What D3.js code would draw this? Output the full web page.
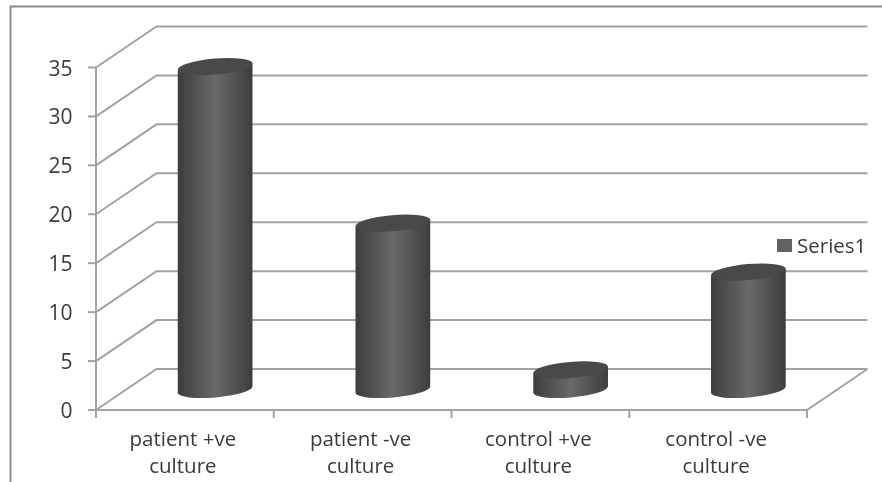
<!DOCTYPE html>
<html><head><meta charset="utf-8">
<script src="https://cdn.jsdelivr.net/npm/d3@7"></script>
<style>html,body{margin:0;background:#fff}svg{display:block}text{font-family:"Open Sans",sans-serif;fill:#3a3a3a}</style>
</head><body><svg id="c" width="882" height="482"></svg>
<script>
const categories=[["patient +ve","culture"],["patient -ve","culture"],["control +ve","culture"],["control -ve","culture"]];
const values=[33,17,2,12];
const yTicks=[0,5,10,15,20,25,30,35];
const seriesName="Series1";

const svg=d3.select("#c");
const depth={x:60.5,y:-41};
const y=d3.scaleLinear().domain([0,35]).range([410,67.5]);
const x=d3.scaleBand().domain(d3.range(4)).range([96,807]);
const grid="#a3a3a3";
const defs=svg.append("defs");
const g=defs.append("linearGradient").attr("id","cyl");
[[0,"#3d3d3d"],[.5,"#696969"],[1,"#3d3d3d"]].forEach(s=>g.append("stop").attr("offset",s[0]).attr("stop-color",s[1]));
defs.append("filter").attr("id","soft").append("feGaussianBlur").attr("stdDeviation",.35);
const root=svg.append("g").attr("filter","url(#soft)");

// frame
root.append("path").attr("d","M10.5 482V6.5H882").attr("fill","none").attr("stroke","#8c8c8c").attr("stroke-width",2);

// walls
const walls=root.append("g").attr("fill","none").attr("stroke",grid).attr("stroke-width",2);
yTicks.forEach(t=>{
  walls.append("path").attr("d",`M${x.range()[0]} ${y(t)}l${depth.x} ${depth.y}H${x.range()[1]+depth.x}`);
});
walls.append("path").attr("d",`M${x.range()[0]} ${y(35)}V${y(0)}H${x.range()[1]}l${depth.x} ${depth.y}`);
yTicks.forEach(t=>walls.append("path").attr("d",`M${x.range()[0]-8} ${y(t)}h8`));
d3.range(5).forEach(i=>{
  const px=x.range()[0]+i*x.step();
  walls.append("path").attr("d",`M${px} ${y(0)}v8`);
});

// y labels
root.append("g").selectAll("text").data(yTicks).join("text")
  .attr("x",72.5).attr("y",d=>y(d)+8).attr("text-anchor","end").attr("font-size",21).text(d=>d);

// cylinders
const rx=37.5,ry=8,rot=-5;
const unit=y(0)-y(1);
const dx=Math.cos(rot*Math.PI/180)*rx, dy=Math.sin(rot*Math.PI/180)*rx;
const baseY=y(0)+depth.y/2;
const bars=root.append("g").selectAll("g").data(values).join("g")
  .attr("transform",(d,i)=>`translate(${x(i)+x.bandwidth()/2+depth.x/2},0)`);
bars.append("path").attr("fill","url(#cyl)").attr("d",d=>{
  const top=baseY-d*unit;
  return `M${-dx} ${top-dy}L${-dx} ${baseY-dy}A${rx} ${ry} ${rot} 0 0 ${dx} ${baseY+dy}L${dx} ${top+dy}Z`;
});
bars.append("ellipse").attr("fill","#484848").attr("rx",rx).attr("ry",ry)
  .attr("transform",d=>`translate(0,${baseY-d*unit}) rotate(${rot})`);

// x labels
const lab=root.append("g").selectAll("text").data(categories).join("text")
  .attr("text-anchor","middle").attr("font-size",20.5);
lab.each(function(d,i){
  const s=d3.select(this);
  d.forEach((l,k)=>s.append("tspan").attr("x",x(i)+x.bandwidth()/2-2).attr("y",446+k*26.5).text(l));
});

// legend
root.append("rect").attr("x",777).attr("y",239).attr("width",15).attr("height",13).attr("fill","#626262");
root.append("text").attr("x",797).attr("y",252.5).attr("font-size",20.5).text(seriesName);
</script></body></html>
